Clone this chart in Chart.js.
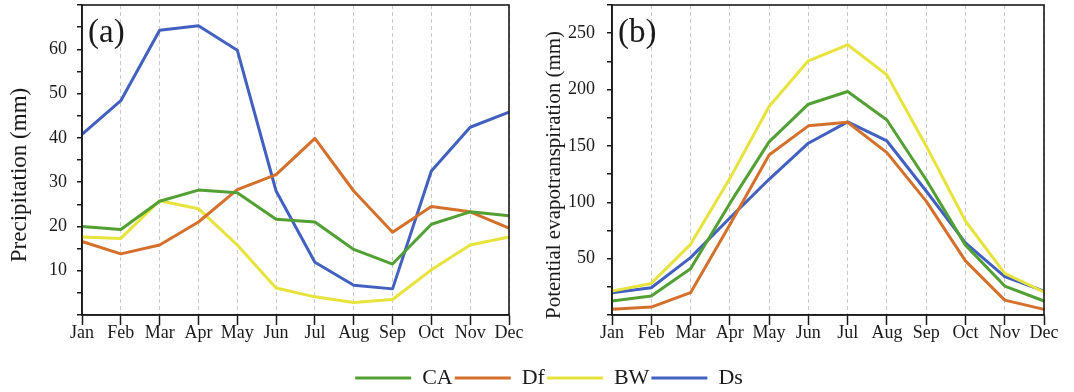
<!DOCTYPE html>
<html><head><meta charset="utf-8">
<script src="https://cdn.jsdelivr.net/npm/chart.js@4.4.1/dist/chart.umd.min.js"></script>
<style>
html,body{margin:0;padding:0;background:#fff;width:1074px;height:392px;overflow:hidden;position:relative}
.box{position:absolute}
canvas{display:block}
</style></head><body>
<div class="box" style="left:0;top:0;"><canvas id="c1" width="540" height="350"></canvas></div>
<div class="box" style="left:540px;top:0;"><canvas id="c2" width="534" height="350"></canvas></div>
<div class="box" style="left:0;top:330px;"><canvas id="c3" width="1074" height="80"></canvas></div>
<script>
const months = ['Jan','Feb','Mar','Apr','May','Jun','Jul','Aug','Sep','Oct','Nov','Dec'];
const seriesNames = ['CA','Df','BW','Ds'];
const seriesColors = ['#52a033','#d4702b','#e6e33c','#4160bf'];

// (a) Precipitation (mm)
const precipCA = [20.0, 19.3, 25.7, 28.2, 27.6, 21.6, 21.0, 14.8, 11.5, 20.5, 23.3, 22.4];
const precipDf = [16.6, 13.8, 15.8, 21.0, 28.3, 31.7, 39.9, 28.0, 18.7, 24.5, 23.3, 19.6];
const precipBW = [17.6, 17.3, 25.8, 24.0, 15.8, 6.1, 4.1, 2.8, 3.5, 10.2, 15.8, 17.6];
const precipDs = [40.8, 48.4, 64.3, 65.3, 59.8, 28.0, 11.9, 6.7, 5.9, 32.5, 42.4, 45.8];
const precipTickLabels = [10, 20, 30, 40, 50, 60];

// (b) Potential evapotranspiration (mm)
const petCA = [12.4, 16.8, 41.0, 99.0, 153.6, 187.0, 198.3, 173.0, 120.0, 62.0, 25.7, 12.4];
const petDf = [5.0, 7.0, 19.8, 80.0, 142.0, 167.8, 171.0, 144.0, 101.0, 48.0, 13.2, 5.0];
const petBW = [21.2, 28.0, 62.7, 121.0, 185.0, 225.5, 239.7, 213.0, 150.0, 83.4, 37.0, 20.4];
const petDs = [19.8, 24.2, 50.9, 86.0, 120.4, 152.4, 171.3, 154.4, 110.0, 64.0, 34.0, 21.2];
const petTickLabels = [50, 100, 150, 200, 250];

const FAMILY = '"Liberation Serif", "Times New Roman", serif';
const INK = '#1a1a1a';

const decor = {
  id: 'decor',
  afterDraw(chart, args, o) {
    const {ctx, chartArea: a} = chart;
    ctx.save();
    ctx.strokeStyle = INK; ctx.lineWidth = 1.6;
    ctx.strokeRect(a.left, a.top, a.right - a.left, a.bottom - a.top);
    ctx.fillStyle = INK;
    ctx.font = '33px ' + FAMILY;
    ctx.textAlign = 'left'; ctx.textBaseline = 'middle';
    ctx.fillText(o.panel, a.left + 6, a.top + 28);
    ctx.translate(o.titleX, o.titleY);
    ctx.rotate(-Math.PI / 2);
    ctx.textAlign = 'center';
    ctx.font = o.titleSize + 'px ' + FAMILY;
    ctx.fillText(o.title, 0, 0);
    ctx.restore();
  }
};

function makeChart(id, values, yMax, step, labels, yWidth, padRight, panel, title, titleX, titleY, titleSize, tickPad) {
  return new Chart(document.getElementById(id), {
    type: 'line',
    data: {
      labels: months,
      datasets: seriesNames.map((n, i) => ({
        label: n, data: values[i],
        borderColor: seriesColors[i], backgroundColor: seriesColors[i],
        borderWidth: 3, pointRadius: 0, tension: 0, borderJoinStyle: 'round', fill: false
      }))
    },
    options: {
      responsive: false, animation: false,
      layout: {padding: {left: 0, top: 5, right: padRight, bottom: 0}},
      plugins: {
        legend: {display: false}, tooltip: {enabled: false},
        decor: {panel, title, titleX, titleY, titleSize}
      },
      scales: {
        x: {
          type: 'category', offset: false,
          grid: {drawOnChartArea: true, color: '#c9c9c9', lineWidth: 1, tickColor: INK, tickWidth: 1.5, tickLength: 10},
          border: {display: true, color: INK, width: 1.6, dash: [4, 3]},
          ticks: {padding: -3, color: INK, font: {family: FAMILY, size: 18}, maxRotation: 0, autoSkip: false},
          afterFit: s => { s.height = 35; s.paddingLeft = 0; s.paddingRight = 0; }
        },
        y: {
          min: 0, max: yMax,
          grid: {drawOnChartArea: false, color: INK, tickColor: INK, lineWidth: 1.5, tickLength: 5},
          border: {display: true, color: INK, width: 1.6},
          ticks: {stepSize: step, padding: tickPad, color: INK, font: {family: FAMILY, size: 18}, autoSkip: false,
                  callback: v => labels.includes(v) ? String(v) : ''},
          afterFit: s => { s.width = yWidth; s.paddingTop = 0; s.paddingBottom = 0; }
        }
      }
    },
    plugins: [decor]
  });
}

makeChart('c1', [precipCA, precipDf, precipBW, precipDs], 70, 5, precipTickLabels, 82, 31,
  '(a)', 'Precipitation (mm)', 20, 175, 23, 10);
makeChart('c2', [petCA, petDf, petBW, petDs], 275, 25, petTickLabels, 72, 30,
  '(b)', 'Potential evapotranspiration (mm)', 14, 175, 21, 12);

new Chart(document.getElementById('c3'), {
  type: 'line',
  data: {labels: [], datasets: seriesNames.map((n, i) => ({label: n, data: [], borderColor: seriesColors[i], backgroundColor: seriesColors[i]}))},
  options: {
    responsive: false, animation: false,
    layout: {padding: {left: 24, top: 35, right: 0, bottom: 0}},
    scales: {x: {display: false}, y: {display: false}},
    plugins: {
      tooltip: {enabled: false},
      legend: {
        display: true, position: 'top',
        labels: {
          boxWidth: 56, boxHeight: 3, padding: 2, color: INK,
          font: {family: FAMILY, size: 22},
          generateLabels: chart => chart.data.datasets.map((d, i) => ({
            text: d.label, fillStyle: d.borderColor, strokeStyle: d.borderColor,
            lineWidth: 0, datasetIndex: i, fontColor: INK, hidden: false
          }))
        }
      }
    }
  }
});
</script>
</body></html>
